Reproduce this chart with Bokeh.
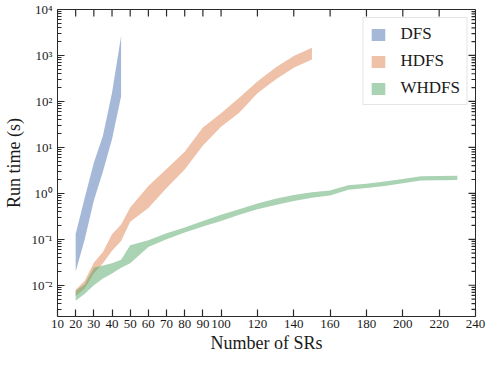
from bokeh.plotting import figure
from bokeh.models import Range1d, FixedTicker, CustomJSTickFormatter, Legend
from bokeh.embed import file_html
from bokeh.resources import INLINE

# ---- data ----
dfs_x = [20, 25, 30, 35, 40, 45]
dfs_lo = [0.02, 0.1, 0.7, 3.0, 15, 130]
dfs_hi = [0.13, 0.8, 4.6, 18, 155, 2650]

hdfs_x = [20, 25, 30, 35, 40, 45, 50, 60, 70, 80, 90, 100, 110, 120, 130, 140, 150]
hdfs_lo = [0.0058, 0.0085, 0.018, 0.03, 0.056, 0.092, 0.24, 0.48, 1.3, 3.3, 11, 28, 57, 150, 300, 540, 820]
hdfs_hi = [0.008, 0.0125, 0.031, 0.053, 0.128, 0.21, 0.49, 1.45, 3.4, 8.0, 27, 55, 120, 270, 550, 970, 1480]

whdfs_x = [20, 25, 30, 35, 40, 45, 50, 60, 70, 80, 90, 100, 110, 120, 130, 140,
           150, 160, 170, 180, 190, 200, 210, 230]
whdfs_lo = [0.0046, 0.0065, 0.010, 0.014, 0.018, 0.024, 0.030, 0.068, 0.10, 0.14, 0.19, 0.25,
            0.34, 0.45, 0.56, 0.68, 0.80, 0.90, 1.2, 1.3, 1.45, 1.65, 1.9, 1.95]
whdfs_hi = [0.0075, 0.0105, 0.024, 0.027, 0.030, 0.036, 0.074, 0.095, 0.135, 0.18, 0.25, 0.34,
            0.45, 0.60, 0.76, 0.92, 1.05, 1.15, 1.5, 1.62, 1.8, 2.05, 2.35, 2.4]

x_ticks = [10, 20, 30, 40, 50, 60, 70, 80, 90, 100, 120, 140, 160, 180, 200, 220, 240]
y_ticks = [1e-2, 1e-1, 1e0, 1e1, 1e2, 1e3, 1e4]
X_MIN, X_MAX = 10, 240
Y_MIN, Y_MAX = 10 ** -2.68, 1e4
y_minor = [m * 10.0 ** e for e in range(-3, 4) for m in range(2, 10) if Y_MIN <= m * 10.0 ** e <= Y_MAX]

FONT = "Liberation Serif"
AX = "#2a2a2a"
TXT = "#1a1a1a"
FW, FH = 418, 307
MAJ, MIN_ = 7, 4

p = figure(frame_width=FW, frame_height=FH, y_axis_type="log",
           x_range=Range1d(X_MIN, X_MAX), y_range=Range1d(Y_MIN, Y_MAX),
           output_backend="svg", toolbar_location=None,
           min_border_left=51, min_border_right=12, min_border_top=9, min_border_bottom=40)
p.grid.visible = False
p.outline_line_color = AX
p.outline_line_width = 1

r1 = p.varea(x=dfs_x, y1=dfs_lo, y2=dfs_hi, fill_color="#4C72B0", fill_alpha=0.5)
r2 = p.varea(x=hdfs_x, y1=hdfs_lo, y2=hdfs_hi, fill_color="#DD8452", fill_alpha=0.5)
r3 = p.varea(x=whdfs_x, y1=whdfs_lo, y2=whdfs_hi, fill_color="#55A868", fill_alpha=0.5)

# mirrored inward ticks on top and right, lengths converted from pixels to data units
ppd = FH / (4 - (-2.68))          # pixels per decade
ppx = FW / (X_MAX - X_MIN)        # pixels per x unit

bx = x_ticks
p.segment(x0=bx, x1=bx, y0=[Y_MAX] * len(bx), y1=[Y_MAX * 10 ** (-MAJ / ppd)] * len(bx),
          line_color=AX, line_width=1.2)
for ys, L in ((y_ticks, MAJ), (y_minor, MIN_)):
    n = len(ys)
    p.segment(x0=[X_MAX] * n, x1=[X_MAX - L / ppx] * n, y0=ys, y1=ys,
              line_color=AX, line_width=1.2)

sup_fmt = CustomJSTickFormatter(code="""
const sup = {"-":"\u207b","0":"\u2070","1":"\u00b9","2":"\u00b2","3":"\u00b3","4":"\u2074",
             "5":"\u2075","6":"\u2076","7":"\u2077","8":"\u2078","9":"\u2079"};
const e = Math.round(Math.log10(tick));
return "10" + String(e).split("").map(c => sup[c]).join("");
""")

def style(ax, ticks, minor):
    ax.ticker = FixedTicker(ticks=ticks, minor_ticks=minor)
    ax.axis_line_color = None
    ax.major_tick_line_color = AX
    ax.minor_tick_line_color = AX
    ax.major_tick_line_width = 1.2
    ax.minor_tick_line_width = 1.2
    ax.major_tick_in = MAJ
    ax.major_tick_out = 0
    ax.minor_tick_in = MIN_
    ax.minor_tick_out = 0
    ax.major_label_text_font = FONT
    ax.major_label_text_font_size = "13px"
    ax.major_label_text_color = TXT
    ax.axis_label_text_font = FONT
    ax.axis_label_text_font_size = "18px"
    ax.axis_label_text_font_style = "normal"
    ax.axis_label_text_color = TXT

xa = p.xaxis[0]
style(xa, x_ticks, [])
xa.axis_label = "Number of SRs"
xa.major_label_standoff = 3
xa.axis_label_standoff = 2

ya = p.yaxis[0]
style(ya, y_ticks, y_minor)
ya.formatter = sup_fmt
ya.axis_label = "Run time (s)"
ya.major_label_standoff = 5
ya.axis_label_standoff = 5

legend = Legend(items=[("DFS", [r1]), ("HDFS", [r2]), ("WHDFS", [r3])],
                location="top_right")
legend.label_text_font = FONT
legend.label_text_font_size = "17px"
legend.label_text_color = TXT
legend.glyph_width = 17
legend.glyph_height = 15
legend.label_standoff = 14
legend.spacing = 7
legend.padding = 6
legend.margin = 8
legend.border_line_color = "#cccccc"
legend.background_fill_alpha = 0.8
p.add_layout(legend)

open("out.html", "w").write(file_html(p, INLINE))
